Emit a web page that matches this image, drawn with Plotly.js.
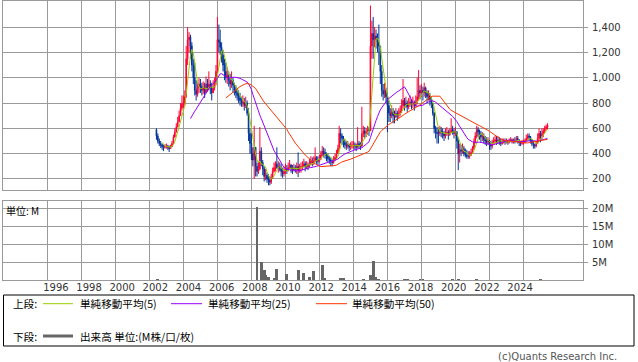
<!DOCTYPE html>
<html><head><meta charset="utf-8">
<script src="https://cdn.plot.ly/plotly-3.0.1.min.js"></script>
<style>html,body{margin:0;padding:0;background:#fff;}#chart{width:638px;height:362px;}</style>
</head><body><div id="chart"></div>
<script>
// Monthly prices, first month 2002-06
const startYear = 2002, startMon = 6;
const firstOpen = 590;
const close = [
 540,500,480,470,455,450,455,
 460,450,440,455,480,530,570,610,650,700,760,790,
 800,850,1150,1300,1320,1250,1100,1000,900,870,920,950,
 930,900,920,880,950,920,950,930,880,920,960,1050,
 1300,1280,1240,1180,1100,1050,1000,1020,980,950,980,940,
 900,880,860,840,820,800,810,780,800,720,560,480,
 400,350,450,300,260,280,420,330,280,220,230,200,
 190,175,210,260,290,320,290,300,280,260,240,260,
 280,270,290,310,280,270,290,280,300,270,290,300,
 300,320,300,310,300,320,340,330,340,370,350,340,
 360,390,420,410,400,380,360,350,340,330,350,370,
 400,440,560,540,520,490,470,460,470,450,460,470,
 470,460,450,480,470,460,560,580,560,570,590,580,
 1250,1350,1300,1330,1300,1280,1250,1050,900,870,900,850,
 780,720,700,730,700,690,720,700,720,740,780,820,
 780,800,770,790,810,790,800,780,810,850,900,880,
 900,880,920,880,850,860,830,800,720,600,570,560,
 560,580,570,560,540,560,570,550,570,590,580,560,
 570,500,400,430,420,440,400,390,380,380,390,410,
 440,490,540,590,570,550,530,540,510,500,490,500,
 470,460,480,500,510,490,510,500,480,490,500,490,
 500,490,500,510,500,505,500,520,510,490,480,490,
 490,500,520,540,530,510,480,470,460,480,520,560,
 540,560,580,600,610,625
];
const high = [
 600,560,520,500,480,470,475,
 480,470,465,470,500,550,600,640,690,740,800,860,
 860,900,1250,1400,1360,1340,1280,1150,1120,980,960,1000,
 990,960,970,960,1010,990,1050,980,960,980,1000,1100,
 1480,1420,1380,1280,1220,1150,1120,1080,1050,1030,1050,1000,
 960,940,920,900,880,850,860,840,850,820,760,600,
 560,450,620,440,330,340,610,450,350,300,280,250,
 240,220,240,290,330,340,450,340,330,320,290,300,
 320,310,330,350,320,310,320,310,330,410,320,330,
 340,360,340,340,330,360,380,370,380,450,380,380,
 390,420,460,450,440,410,400,380,370,360,380,400,
 430,470,620,600,560,540,510,500,500,480,490,500,
 500,490,480,610,500,490,770,620,610,600,620,610,
 1570,1450,1480,1400,1380,1350,1420,1250,1100,950,960,920,
 880,820,760,780,760,740,760,740,760,780,830,990,
 840,850,820,840,860,830,850,820,860,1000,1060,940,
 950,930,960,930,900,900,880,850,800,730,620,610,
 610,620,610,600,580,600,610,590,600,680,620,600,
 610,580,520,480,470,480,460,440,430,420,420,440,
 460,520,570,620,610,590,580,570,560,540,530,530,
 510,500,510,530,540,540,540,530,520,520,520,520,
 520,510,520,530,520,520,530,540,540,510,500,510,
 510,520,550,560,560,540,510,500,480,500,560,600,
 580,600,600,620,630,640
];
const low = [
 510,480,460,445,430,420,440,
 440,430,413,440,455,480,530,570,610,650,700,740,
 760,780,840,1100,1200,1150,1050,950,860,820,850,880,
 880,860,870,840,880,890,900,870,820,880,900,940,
 1040,1200,1180,1120,1050,980,960,950,930,900,920,880,
 860,840,820,800,780,770,770,740,760,700,500,400,
 350,300,200,220,220,240,270,300,230,180,190,170,
 150,150,160,200,250,260,280,250,260,220,210,220,
 240,240,260,280,250,240,260,250,240,215,250,250,
 270,290,260,280,270,290,310,300,310,330,320,310,
 330,350,380,370,360,340,330,320,300,300,320,340,
 360,400,430,480,470,450,440,430,440,420,430,440,
 440,430,420,440,440,430,450,530,520,530,550,540,
 580,1150,1150,1240,1230,1200,1100,950,850,820,840,800,
 570,650,650,680,640,640,680,660,680,700,720,760,
 740,760,730,750,770,750,760,740,770,790,820,830,
 850,820,850,840,800,820,780,760,700,560,520,480,
 480,540,530,520,500,520,540,510,540,560,550,520,
 540,440,270,330,380,400,380,370,360,360,360,380,
 400,430,480,520,530,510,490,500,480,470,460,470,
 430,430,440,470,480,470,480,470,460,470,480,470,
 480,470,480,490,480,480,480,490,480,460,460,470,
 470,480,490,510,500,480,460,440,440,450,480,500,
 490,510,530,560,580,590
];
// Volume (millions), sparse months
const volMonths = ['2002-07','2008-05','2008-08','2008-10','2008-11','2009-01','2009-05','2009-07',
 '2010-02','2010-10','2011-02','2011-06','2011-09','2012-03','2012-05','2013-04','2013-06',
 '2014-08','2015-01','2015-03','2015-05','2015-07','2017-01','2017-03','2017-12','2018-02',
 '2019-11','2020-03','2021-04','2025-01'];
const volume = [0.3,20.4,5.0,2.7,1.3,0.9,0.5,3.2,
 1.6,2.7,1.9,0.9,2.4,4.2,0.5,0.5,0.5,
 0.4,1.3,5.4,0.7,0.4,0.4,0.4,0.4,0.4,
 0.4,0.4,0.4,0.4];
const priceTicks = [200,400,600,800,1000,1200,1400];
const volTicks = [5,10,15,20];
const volTickText = ['5M','10M','15M','20M'];
const labelYears = [1996,1998,2000,2002,2004,2006,2008,2010,2012,2014,2016,2018,2020,2022,2024];
const maPeriods = [5,25,50];
const maColors = ['#99cc00','#9900ff','#ff3300'];
const maNames = ['単純移動平均(5)','単純移動平均(25)','単純移動平均(50)'];

const pad = n => (n<10?'0':'')+n;
const dates = close.map((_,i)=>{const t=startMon-1+i;return (startYear+Math.floor(t/12))+'-'+pad(t%12+1)+'-01';});
const open = close.map((_,i)=> i===0?firstOpen:close[i-1]);
function sma(n){return close.map((_,i)=>{if(i<n-1)return null;let s=0;for(let k=i-n+1;k<=i;k++)s+=close[k];return s/n;});}

const traces = [{
  type:'candlestick', x:dates, open:open, high:high, low:low, close:close,
  xaxis:'x', yaxis:'y', hoverinfo:'skip',
  increasing:{line:{color:'#ff0033',width:1},fillcolor:'#ff0033'},
  decreasing:{line:{color:'#003399',width:1},fillcolor:'#003399'},
  whiskerwidth:0
}];
maPeriods.forEach((n,j)=>traces.push({type:'scatter',mode:'lines',x:dates,y:sma(n),xaxis:'x',yaxis:'y',
  line:{color:maColors[j],width:1},hoverinfo:'skip',connectgaps:false}));
traces.push({type:'bar',x:volMonths.map(m=>m+'-01'),y:volume,xaxis:'x2',yaxis:'y2',
  marker:{color:'#666666',line:{width:0}},width:volMonths.map(()=>60*86400000),hoverinfo:'skip'});
traces.push({type:'scatter',mode:'none',x:labelYears,y:labelYears.map(()=>0),xaxis:'x3',yaxis:'y2',hoverinfo:'skip'});

const gridDates = labelYears.map(y=>y+'-01-01');
const xRange = ['1993-05-23','2027-07-03'];
const G = '#9a9a9a';
const tf = {family:'DejaVu Sans',size:10,color:'#333'};
const commonX = {type:'date',range:xRange,tickvals:gridDates,showticklabels:false,showgrid:true,gridcolor:G,gridwidth:1,
  showline:true,mirror:true,linecolor:G,linewidth:1,zeroline:false,ticks:'',rangeslider:{visible:false},fixedrange:true};
const commonY = {side:'right',showgrid:true,gridcolor:G,gridwidth:1,showline:true,mirror:true,linecolor:G,linewidth:1,
  zeroline:false,ticks:'outside',ticklen:4,tickcolor:G,tickfont:tf,fixedrange:true,ticklabelstandoff:2};

const W=580, H=279, L0=3, T0=1;
const px = x=>(x-L0)/W, py = y=>(T0+H-y)/H;
const cjk = {family:'Noto Sans CJK JP',size:10.6,color:'#000'};
const ann = [
  {xref:'paper',yref:'paper',x:px(4),y:py(210),xanchor:'left',yanchor:'middle',text:'単位: M',showarrow:false,font:{family:'Noto Sans CJK JP',size:10,color:'#000'}},
  {xref:'paper',yref:'paper',x:px(11),y:py(303.7),xanchor:'left',yanchor:'middle',text:'上段:',showarrow:false,font:cjk},
  {xref:'paper',yref:'paper',x:px(11),y:py(336),xanchor:'left',yanchor:'middle',text:'下段:',showarrow:false,font:cjk},
  {xref:'paper',yref:'paper',x:px(78),y:py(336),xanchor:'left',yanchor:'middle',text:'出来高 単位:(M株/口/枚)',showarrow:false,font:cjk},
  {xref:'paper',yref:'paper',x:px(619),y:py(356),xanchor:'right',yanchor:'middle',text:'(c)Quants Research Inc.',showarrow:false,font:{family:'DejaVu Sans',size:10,color:'#555'}}
];
const legX = [[43,73,78],[171,202,206],[316,347,350]];
const shapes = [
  {type:'rect',xref:'paper',yref:'paper',x0:px(3.5),x1:px(634),y0:py(346),y1:py(295),line:{color:'#000',width:1},fillcolor:'rgba(0,0,0,0)'},
  {type:'line',xref:'paper',yref:'paper',x0:px(43),x1:px(73),y0:py(336),y1:py(336),line:{color:'#666',width:3}}
];
legX.forEach((p,j)=>{
  shapes.push({type:'line',xref:'paper',yref:'paper',x0:px(p[0]),x1:px(p[1]),y0:py(303.7),y1:py(303.7),line:{color:maColors[j],width:1}});
  ann.push({xref:'paper',yref:'paper',x:px(p[2]),y:py(303.7),xanchor:'left',yanchor:'middle',text:maNames[j],showarrow:false,font:cjk});
});

const layout = {
  width:638,height:362,margin:{l:L0,r:638-583,t:T0,b:362-280,pad:0},
  paper_bgcolor:'#fff',plot_bgcolor:'#fff',showlegend:false,font:tf,
  xaxis:Object.assign({},commonX,{anchor:'y',domain:[0,1]}),
  xaxis2:Object.assign({},commonX,{anchor:'y2',domain:[0,1]}),
  xaxis3:{type:'linear',overlaying:'x2',anchor:'y2',range:[1992.81,2027.80],tickvals:labelYears,ticktext:labelYears.map(String),
    showgrid:false,showline:false,zeroline:false,ticks:'',tickfont:tf,fixedrange:true},
  yaxis:Object.assign({},commonY,{anchor:'x',domain:[(280-190)/H,1],range:[113,1606],tickvals:priceTicks,tickformat:','}),
  yaxis2:Object.assign({},commonY,{anchor:'x2',domain:[0,(280-201)/H],range:[0,22],tickvals:volTicks,ticktext:volTickText}),
  annotations:ann,shapes:shapes,bargap:0
};
Plotly.newPlot('chart',traces,layout,{staticPlot:true,displayModeBar:false});
</script></body></html>
